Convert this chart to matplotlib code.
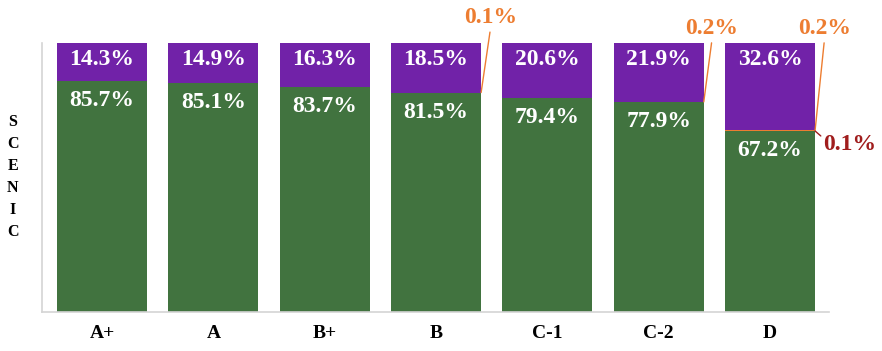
import matplotlib.pyplot as plt
import numpy as np

grades = ['A+', 'A', 'B+', 'B', 'C-1', 'C-2', 'D']
green = [85.7, 85.1, 83.7, 81.5, 79.4, 77.9, 67.2]
red = [0, 0, 0, 0, 0, 0, 0.1]
orange = [0, 0, 0, 0.1, 0, 0.2, 0.2]
purple = [14.3, 14.9, 16.3, 18.5, 20.6, 21.9, 32.6]

c_green = '#41733f'
c_purple = '#7122a8'
c_orange = '#ed7d31'
c_red = '#a01d1d'

plt.rcParams['font.family'] = ['Liberation Serif', 'DejaVu Serif']
plt.rcParams['font.weight'] = 'bold'

fig = plt.figure(figsize=(8.82, 3.51), dpi=100)
ax = fig.add_axes([0.0476, 0.111, 0.8923, 0.7665])

x = np.arange(len(grades))
w = 0.81
g = np.array(green)
r = np.array(red)
o = np.array(orange)
p = np.array(purple)

ax.bar(x, g, w, color=c_green)
ax.bar(x, r, w, bottom=g, color=c_red)
ax.bar(x, o, w, bottom=g + r, color=c_orange)
ax.bar(x, p, w, bottom=g + r + o, color=c_purple)

# labels inside bars
for i in x:
    ax.annotate(f'{green[i]:.1f}%', (i, g[i]), xytext=(0, -6.5), textcoords='offset points',
                ha='center', va='top', color='white', fontsize=17, fontweight='bold')
    top = g[i] + r[i] + o[i] + p[i]
    ax.annotate(f'{purple[i]:.1f}%', (i, top), xytext=(0, -4.5), textcoords='offset points',
                ha='center', va='top', color='white', fontsize=17, fontweight='bold')

# small segments called out
for i in x:
    if orange[i] > 0:
        dx = 0.48 if i == 5 else 0.49
        ax.annotate(f'{orange[i]:.1f}%', xy=(i + w / 2, g[i] + r[i] + o[i]),
                    xytext=(i + dx, 105.5 if i != 3 else 109.5), textcoords='data',
                    ha='center', va='center', color=c_orange, fontsize=17, fontweight='bold',
                    annotation_clip=False,
                    arrowprops=dict(arrowstyle='-', color=c_orange, lw=1, relpos=(0.5, 0),
                                    shrinkA=1, shrinkB=0))
    if red[i] > 0:
        ax.annotate(f'{red[i]:.1f}%', xy=(i + w / 2, g[i] + r[i]),
                    xytext=(i + 0.72, g[i] - 5), textcoords='data',
                    ha='center', va='center', color=c_red, fontsize=17, fontweight='bold',
                    annotation_clip=False,
                    arrowprops=dict(arrowstyle='-', color=c_red, lw=1, relpos=(0, 0.8),
                                    shrinkA=0, shrinkB=0))

ax.set_xlim(-0.54, 6.53)
ax.set_ylim(0, 100)
ax.set_xticks(x)
ax.set_xticklabels(grades, fontsize=14, fontweight='bold')
ax.tick_params(axis='x', length=0, pad=9)
ax.set_yticks([])
for s in ['top', 'right']:
    ax.spines[s].set_visible(False)
for s in ['left', 'bottom']:
    ax.spines[s].set_color('#d4d4d4')
    ax.spines[s].set_linewidth(1.2)

fig.text(0.0145, 0.496, '\n'.join('SCENIC'), ha='center', va='center',
         fontsize=11.5, fontweight='bold', linespacing=1.5)

fig.savefig('out.png', dpi=100)
